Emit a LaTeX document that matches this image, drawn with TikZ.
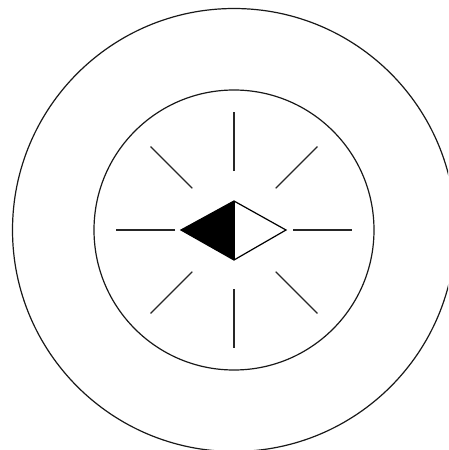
\documentclass[tikz,border=0pt]{standalone}
\usetikzlibrary{calc}
\begin{document}
\begin{tikzpicture}[x=1pt,y=-1pt,line width=1.2pt,
  ring/.style={draw=black!90},
  ray/.style={draw=black!85}]
\useasboundingbox (0,0) rectangle (448,450);
\clip (0,0) rectangle (448,450);
\fill[white] (0,0) rectangle (448,450);
\coordinate (c) at (234,230);
% rings
\draw[ring] (c) circle[radius=221.5];
\draw[ring] (c) circle[radius=140];
% rays
\foreach \a in {0,45,...,315}{
  \draw[ray] ($(c)+(\a:59)$) -- ($(c)+(\a:118)$);
}
% diamond
\coordinate (L) at (181,230);
\coordinate (T) at (234,201);
\coordinate (R) at (286,230);
\coordinate (B) at (234,260);
\fill[black] (L) -- (T) -- (B) -- cycle;
\draw[line join=miter] (L) -- (T) -- (R) -- (B) -- cycle;
\draw (T) -- (B);
\end{tikzpicture}
\end{document}
